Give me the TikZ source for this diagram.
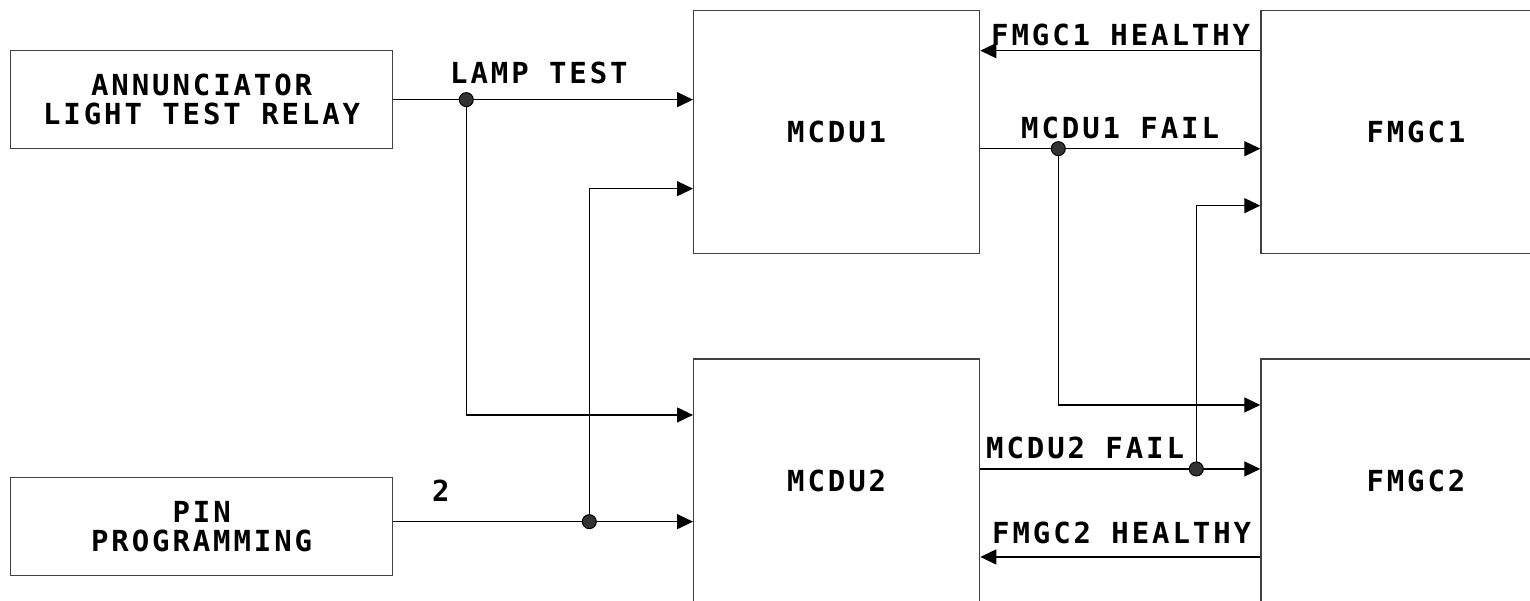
\documentclass[tikz,border=0pt]{standalone}
\usepackage{fontspec}
\newfontfamily\cadfont[LetterSpace=10]{DejaVu Sans Mono}
\usepackage{tikz}
\usetikzlibrary{positioning, arrows.meta}

\tikzset{
  unit/.style={draw=black!75, line width=1.3pt, align=center, inner sep=0pt,
    font=\cadfont\bfseries\fontsize{29}{29}\selectfont},
  sig/.style={line width=1.3pt, -{Triangle[length=16pt,width=15pt]}},
  siglabel/.style={inner sep=0pt, anchor=base west,
    font=\cadfont\bfseries\fontsize{29}{29}\selectfont},
}

\begin{document}
\begin{tikzpicture}[x=1pt, y=-1pt]

\useasboundingbox (0,0) rectangle (1530,600);
\clip (0,0) rectangle (1530,600);

% Caixas
\node[unit, minimum width=382pt, minimum height=98pt, anchor=north west] (annun) at (10,50) {ANNUNCIATOR\\LIGHT TEST RELAY};
\node[unit, minimum width=382pt, minimum height=98pt, anchor=north west] (pin) at (10,477) {PIN\\PROGRAMMING};
\node[unit, minimum width=286pt, minimum height=243pt, anchor=north west] (mcdu1) at (693,10) {MCDU1};
\node[unit, minimum width=286pt, minimum height=243pt, below=104pt of mcdu1] (mcdu2) {MCDU2};
\node[unit, minimum width=310pt, minimum height=243pt, right=280pt of mcdu1] (fmgc1) {FMGC1};
\node[unit, minimum width=310pt, minimum height=243pt, right=280pt of mcdu2] (fmgc2) {FMGC2};

% Pontos de ligacao
\coordinate (lampdot) at ([xshift=73pt]annun.east);
\coordinate (pinout) at ([yshift=5pt]pin.east);
\coordinate (pindot) at ([xshift=196pt]pinout);
\coordinate (fail1out) at ([yshift=-16.5pt]mcdu1.east);
\coordinate (fail1dot) at ([xshift=78pt]fail1out);
\coordinate (fail2out) at ([yshift=11.5pt]mcdu2.east);
\coordinate (fail2dot) at ([xshift=216pt]fail2out);

% Lamp test
\draw[sig] (annun.east) -- (annun.east -| mcdu1.west);
\draw[sig] (lampdot) |- ([yshift=65.5pt]mcdu2.west);
\node[siglabel] at (450,83) {LAMP TEST};

% Pin programming
\draw[sig] (pinout) -- (pinout -| mcdu2.west);
\draw[sig] (pindot) |- ([yshift=-56.5pt]mcdu1.west);
\node[siglabel] at (432,501) {2};

% Healthy
\draw[sig] ([yshift=81.5pt]fmgc1.west) -- ([yshift=81.5pt]mcdu1.east);
\draw[sig] ([yshift=-76.5pt]fmgc2.west) -- ([yshift=-76.5pt]mcdu2.east);
\node[siglabel] at (991,45) {FMGC1 HEALTHY};
\node[siglabel] at (992,543) {FMGC2 HEALTHY};

% Fail
\draw[sig] (fail1out) -- (fail1out -| fmgc1.west);
\draw[sig] (fail1dot) |- ([yshift=75.5pt]fmgc2.west);
\draw[sig] (fail2out) -- (fail2out -| fmgc2.west);
\draw[sig] (fail2dot) |- ([yshift=-73.5pt]fmgc1.west);
\node[siglabel] at (1021,138) {MCDU1 FAIL};
\node[siglabel] at (986,458) {MCDU2 FAIL};

% Pontos
\foreach \d in {lampdot,pindot,fail1dot,fail2dot}
  \filldraw[fill=black!80, draw=black, line width=1pt] (\d) circle (7pt);

\end{tikzpicture}
\end{document}
